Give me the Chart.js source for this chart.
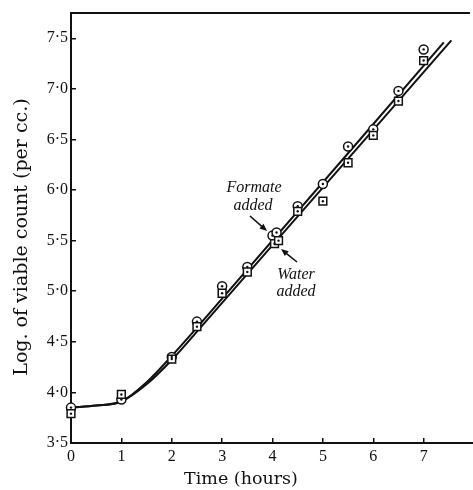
<!DOCTYPE html>
<html>
<head>
  <title>Viable count</title>
  <style>
    html, body { margin: 0; padding: 0; background: #fff; }
    #wrap { width: 473px; height: 490px; }
  </style>
</head>
<body>
  <div id="wrap"><canvas id="chart"></canvas></div>

  <script src="https://cdn.jsdelivr.net/npm/chart.js"></script>
  <script>
    // observations (time in hours, log viable count)
    const circleTimes  = [0, 1, 2, 2.5, 3, 3.5, 4.0, 4.08, 4.5, 5, 5.5, 6, 6.5, 7];
    const circleCounts = [3.85, 3.93, 4.35, 4.70, 5.05, 5.24, 5.55, 5.58, 5.84, 6.06, 6.43, 6.60, 6.98, 7.39];
    const squareTimes  = [0, 1, 2, 2.5, 3, 3.5, 4.04, 4.12, 4.5, 5, 5.5, 6, 6.5, 7];
    const squareCounts = [3.79, 3.98, 4.33, 4.65, 4.98, 5.19, 5.47, 5.50, 5.79, 5.89, 6.27, 6.54, 6.88, 7.28];

    // the two fitted curves
    const curveATimes  = [0, 0.5, 1, 1.5, 2, 2.5, 7.4];
    const curveACounts = [3.85, 3.87, 3.91, 4.10, 4.36, 4.64, 7.46];
    const curveBTimes  = [0, 0.5, 1, 1.5, 2, 2.5, 7.55];
    const curveBCounts = [3.85, 3.87, 3.91, 4.08, 4.32, 4.60, 7.48];

    const xTickLabels = ['0', '1', '2', '3', '4', '5', '6', '7'];
    const yTickLabels = ['3·5', '4·0', '4·5', '5·0', '5·5', '6·0', '6·5', '7·0', '7·5'];

    const ink = '#111';
    const serif = '"Liberation Serif", "DejaVu Serif", serif';
    const wideSerif = '"DejaVu Serif", serif';

    function pts(xs, ys) {
      return xs.map((x, i) => ({ x: x, y: ys[i] }));
    }

    function arrow(ctx, x1, y1, x2, y2) {
      const ang = Math.atan2(y2 - y1, x2 - x1);
      ctx.beginPath();
      ctx.moveTo(x1, y1);
      ctx.lineTo(x2 - 4 * Math.cos(ang), y2 - 4 * Math.sin(ang));
      ctx.stroke();
      ctx.beginPath();
      ctx.moveTo(x2, y2);
      ctx.lineTo(x2 - 8 * Math.cos(ang - 0.4), y2 - 8 * Math.sin(ang - 0.4));
      ctx.lineTo(x2 - 8 * Math.cos(ang + 0.4), y2 - 8 * Math.sin(ang + 0.4));
      ctx.closePath();
      ctx.fill();
    }

    // top frame line, axis titles and the two notes
    const decor = {
      id: 'decor',
      afterDraw(chart) {
        const ctx = chart.ctx;
        const a = chart.chartArea;
        ctx.save();
        ctx.strokeStyle = ink;
        ctx.fillStyle = ink;
        ctx.lineWidth = 2;
        ctx.beginPath();
        ctx.moveTo(a.left - 1, a.top);
        ctx.lineTo(a.right - 3, a.top);
        ctx.stroke();

        ctx.textAlign = 'center';
        ctx.textBaseline = 'middle';
        ctx.font = '17.5px ' + wideSerif;
        ctx.fillText('Time (hours)', 241, 479);
        ctx.font = '19px ' + wideSerif;
        ctx.save();
        ctx.translate(22, 237);
        ctx.rotate(-Math.PI / 2);
        ctx.fillText('Log. of viable count (per cc.)', 0, 0);
        ctx.restore();

        ctx.font = 'italic 16px ' + serif;
        ctx.fillText('Formate', 254, 188);
        ctx.fillText('added', 253, 206);
        ctx.fillText('Water', 296, 275);
        ctx.fillText('added', 296, 292);

        ctx.lineWidth = 1.6;
        arrow(ctx, 250, 216, 267, 231);
        arrow(ctx, 297, 262, 281, 249);
        ctx.restore();
      }
    };

    const curveStyle = {
      showLine: true,
      pointRadius: 0,
      borderColor: ink,
      borderWidth: 2,
      cubicInterpolationMode: 'monotone',
      order: 3
    };

    new Chart(document.getElementById('chart'), {
      type: 'scatter',
      data: {
        datasets: [
          Object.assign({ label: 'Curve A', data: pts(curveATimes, curveACounts) }, curveStyle),
          Object.assign({ label: 'Curve B', data: pts(curveBTimes, curveBCounts) }, curveStyle),
          {
            label: 'Circles',
            data: pts(circleTimes, circleCounts),
            pointStyle: 'circle',
            pointRadius: 4.5,
            pointBackgroundColor: '#fff',
            pointBorderColor: ink,
            pointBorderWidth: 1.5,
            clip: false,
            order: 2
          },
          {
            label: 'Squares',
            data: pts(squareTimes, squareCounts),
            pointStyle: 'rect',
            pointRadius: 5.5,
            pointBackgroundColor: '#fff',
            pointBorderColor: ink,
            pointBorderWidth: 1.5,
            clip: false,
            order: 1
          },
          {
            label: 'Circle dots',
            data: pts(circleTimes, circleCounts),
            pointRadius: 1.2,
            pointBackgroundColor: ink,
            pointBorderWidth: 0,
            clip: false,
            order: 0
          },
          {
            label: 'Square dots',
            data: pts(squareTimes, squareCounts),
            pointRadius: 1.2,
            pointBackgroundColor: ink,
            pointBorderWidth: 0,
            clip: false,
            order: 0
          }
        ]
      },
      options: {
        responsive: true,
        maintainAspectRatio: false,
        animation: false,
        events: [],
        layout: { autoPadding: false, padding: { top: 13, right: 0, left: 0, bottom: 0 } },
        plugins: {
          legend: { display: false },
          tooltip: { enabled: false }
        },
        scales: {
          x: {
            type: 'linear',
            min: 0,
            max: 7.98,
            afterFit: s => { s.height = 47; s.paddingLeft = 0; s.paddingRight = 0; },
            border: { display: true, color: ink, width: 2 },
            grid: { drawOnChartArea: false, drawTicks: true, tickLength: -5, color: ink, lineWidth: 1.5 },
            ticks: {
              stepSize: 1,
              includeBounds: false,
              padding: 9,
              color: ink,
              font: { family: serif, size: 16 },
              maxRotation: 0,
              callback: (v) => xTickLabels[v] !== undefined ? xTickLabels[v] : ''
            }
          },
          y: {
            type: 'linear',
            min: 3.5,
            max: 7.75,
            afterFit: s => { s.width = 71; s.paddingTop = 0; s.paddingBottom = 0; },
            border: { display: true, color: ink, width: 2 },
            grid: { drawOnChartArea: false, drawTicks: true, tickLength: -5, color: ink, lineWidth: 1.5 },
            ticks: {
              stepSize: 0.5,
              includeBounds: false,
              padding: 8,
              color: ink,
              font: { family: serif, size: 16 },
              callback: (v) => {
                const i = Math.round((v - 3.5) / 0.5);
                return yTickLabels[i] !== undefined ? yTickLabels[i] : '';
              }
            }
          }
        }
      },
      plugins: [decor]
    });
  </script>
</body>
</html>
